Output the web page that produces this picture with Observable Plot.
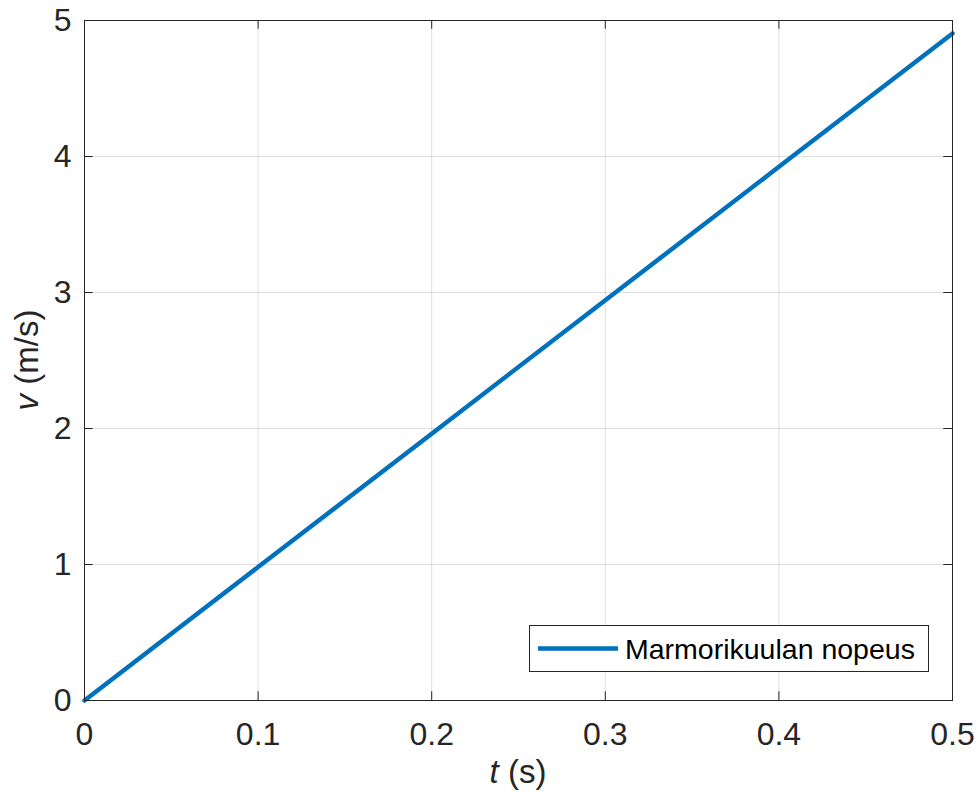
<!DOCTYPE html>
<html><head><meta charset="utf-8">
<script src="https://cdn.jsdelivr.net/npm/d3@7"></script>
<script src="https://cdn.jsdelivr.net/npm/@observablehq/plot@0.6"></script>
<style>
body{margin:0;background:#fff}
#chart{position:relative;width:979px;height:805px}
</style>
</head><body><div id="chart"></div>
<script>
// Data
const time = [0, 0.1, 0.2, 0.3, 0.4, 0.5];
const speed = [0, 0.981, 1.962, 2.943, 3.924, 4.905];
const xTicks = [0, 0.1, 0.2, 0.3, 0.4, 0.5];
const xTickLabels = ["0", "0.1", "0.2", "0.3", "0.4", "0.5"];
const yTicks = [0, 1, 2, 3, 4, 5];
const yTickLabels = ["0", "1", "2", "3", "4", "5"];
const seriesName = "Marmorikuulan nopeus";
const xLabelVar = "t", xLabelUnit = " (s)";
const yLabelVar = "v", yLabelUnit = " (m/s)";

const rows = time.map((t, i) => ({t, v: speed[i]}));
const ink = "#262626";
const blue = "#0072BD";
const font = "'Liberation Sans', Arial, Helvetica, sans-serif";

const W = 979, H = 805;
const mL = 84, mR = 27, mT = 20, mB = 105;
const xDom = [0, 0.5], yDom = [0, 5];
const tickPx = 8.7;
const tY = tickPx / ((H - mT - mB) / (yDom[1] - yDom[0]));
const tX = tickPx / ((W - mL - mR) / (xDom[1] - xDom[0]));

const chart = Plot.plot({
  width: W, height: H,
  marginLeft: mL, marginRight: mR, marginTop: mT, marginBottom: mB,
  style: {fontFamily: font, fontSize: "32px", color: ink, background: "#fff"},
  x: {domain: xDom, ticks: xTicks, tickFormat: (d) => xTickLabels[xTicks.indexOf(d)], tickSize: 0, tickPadding: 22, label: null},
  y: {domain: yDom, ticks: yTicks, tickFormat: (d) => yTickLabels[yTicks.indexOf(d)], tickSize: 0, tickPadding: 13, label: null},
  marks: [
    Plot.ruleX(xTicks, {stroke: ink, strokeOpacity: 0.15, strokeWidth: 1}),
    Plot.ruleY(yTicks, {stroke: ink, strokeOpacity: 0.15, strokeWidth: 1}),
    Plot.ruleX(xTicks, {y1: yDom[0], y2: yDom[0] + tY, stroke: ink, strokeWidth: 1}),
    Plot.ruleX(xTicks, {y1: yDom[1], y2: yDom[1] - tY, stroke: ink, strokeWidth: 1}),
    Plot.ruleY(yTicks, {x1: xDom[0], x2: xDom[0] + tX, stroke: ink, strokeWidth: 1}),
    Plot.ruleY(yTicks, {x1: xDom[1], x2: xDom[1] - tX, stroke: ink, strokeWidth: 1}),
    Plot.line(rows, {x: "t", y: "v", stroke: blue, strokeWidth: 4.5}),
    Plot.frame({stroke: ink, strokeWidth: 1})
  ]
});
document.getElementById("chart").appendChild(chart);

const svg = d3.select(chart);
svg.selectAll("text").attr("fill", ink);
const xs = chart.scale("x"), ys = chart.scale("y");
const cx = (xs.apply(xDom[0]) + xs.apply(xDom[1])) / 2;
const cy = (ys.apply(yDom[0]) + ys.apply(yDom[1])) / 2;

const xl = svg.append("text").attr("x", cx).attr("y", 783)
  .style("text-anchor", "middle").style("font-size", "33px").style("font-family", font).attr("fill", ink);
xl.append("tspan").style("font-style", "italic").text(xLabelVar);
xl.append("tspan").text(xLabelUnit);

const yl = svg.append("text").attr("transform", `translate(38,${cy}) rotate(-90)`)
  .style("text-anchor", "middle").style("font-size", "33px").style("font-family", font).attr("fill", ink);
yl.append("tspan").style("font-style", "italic").text(yLabelVar);
yl.append("tspan").text(yLabelUnit);

// Legend
const lg = svg.append("g");
lg.append("rect").attr("x", 529.5).attr("y", 625.5).attr("width", 399).attr("height", 46)
  .attr("fill", "#fff").attr("stroke", ink).attr("stroke-width", 1);
lg.append("line").attr("x1", 538).attr("x2", 618).attr("y1", 648.5).attr("y2", 648.5)
  .attr("stroke", blue).attr("stroke-width", 4.5);
lg.append("text").attr("x", 625).attr("y", 659)
  .style("text-anchor", "start").style("font-size", "28.5px").style("font-family", font)
  .attr("fill", "#000").text(seriesName);
</script>
</body></html>
